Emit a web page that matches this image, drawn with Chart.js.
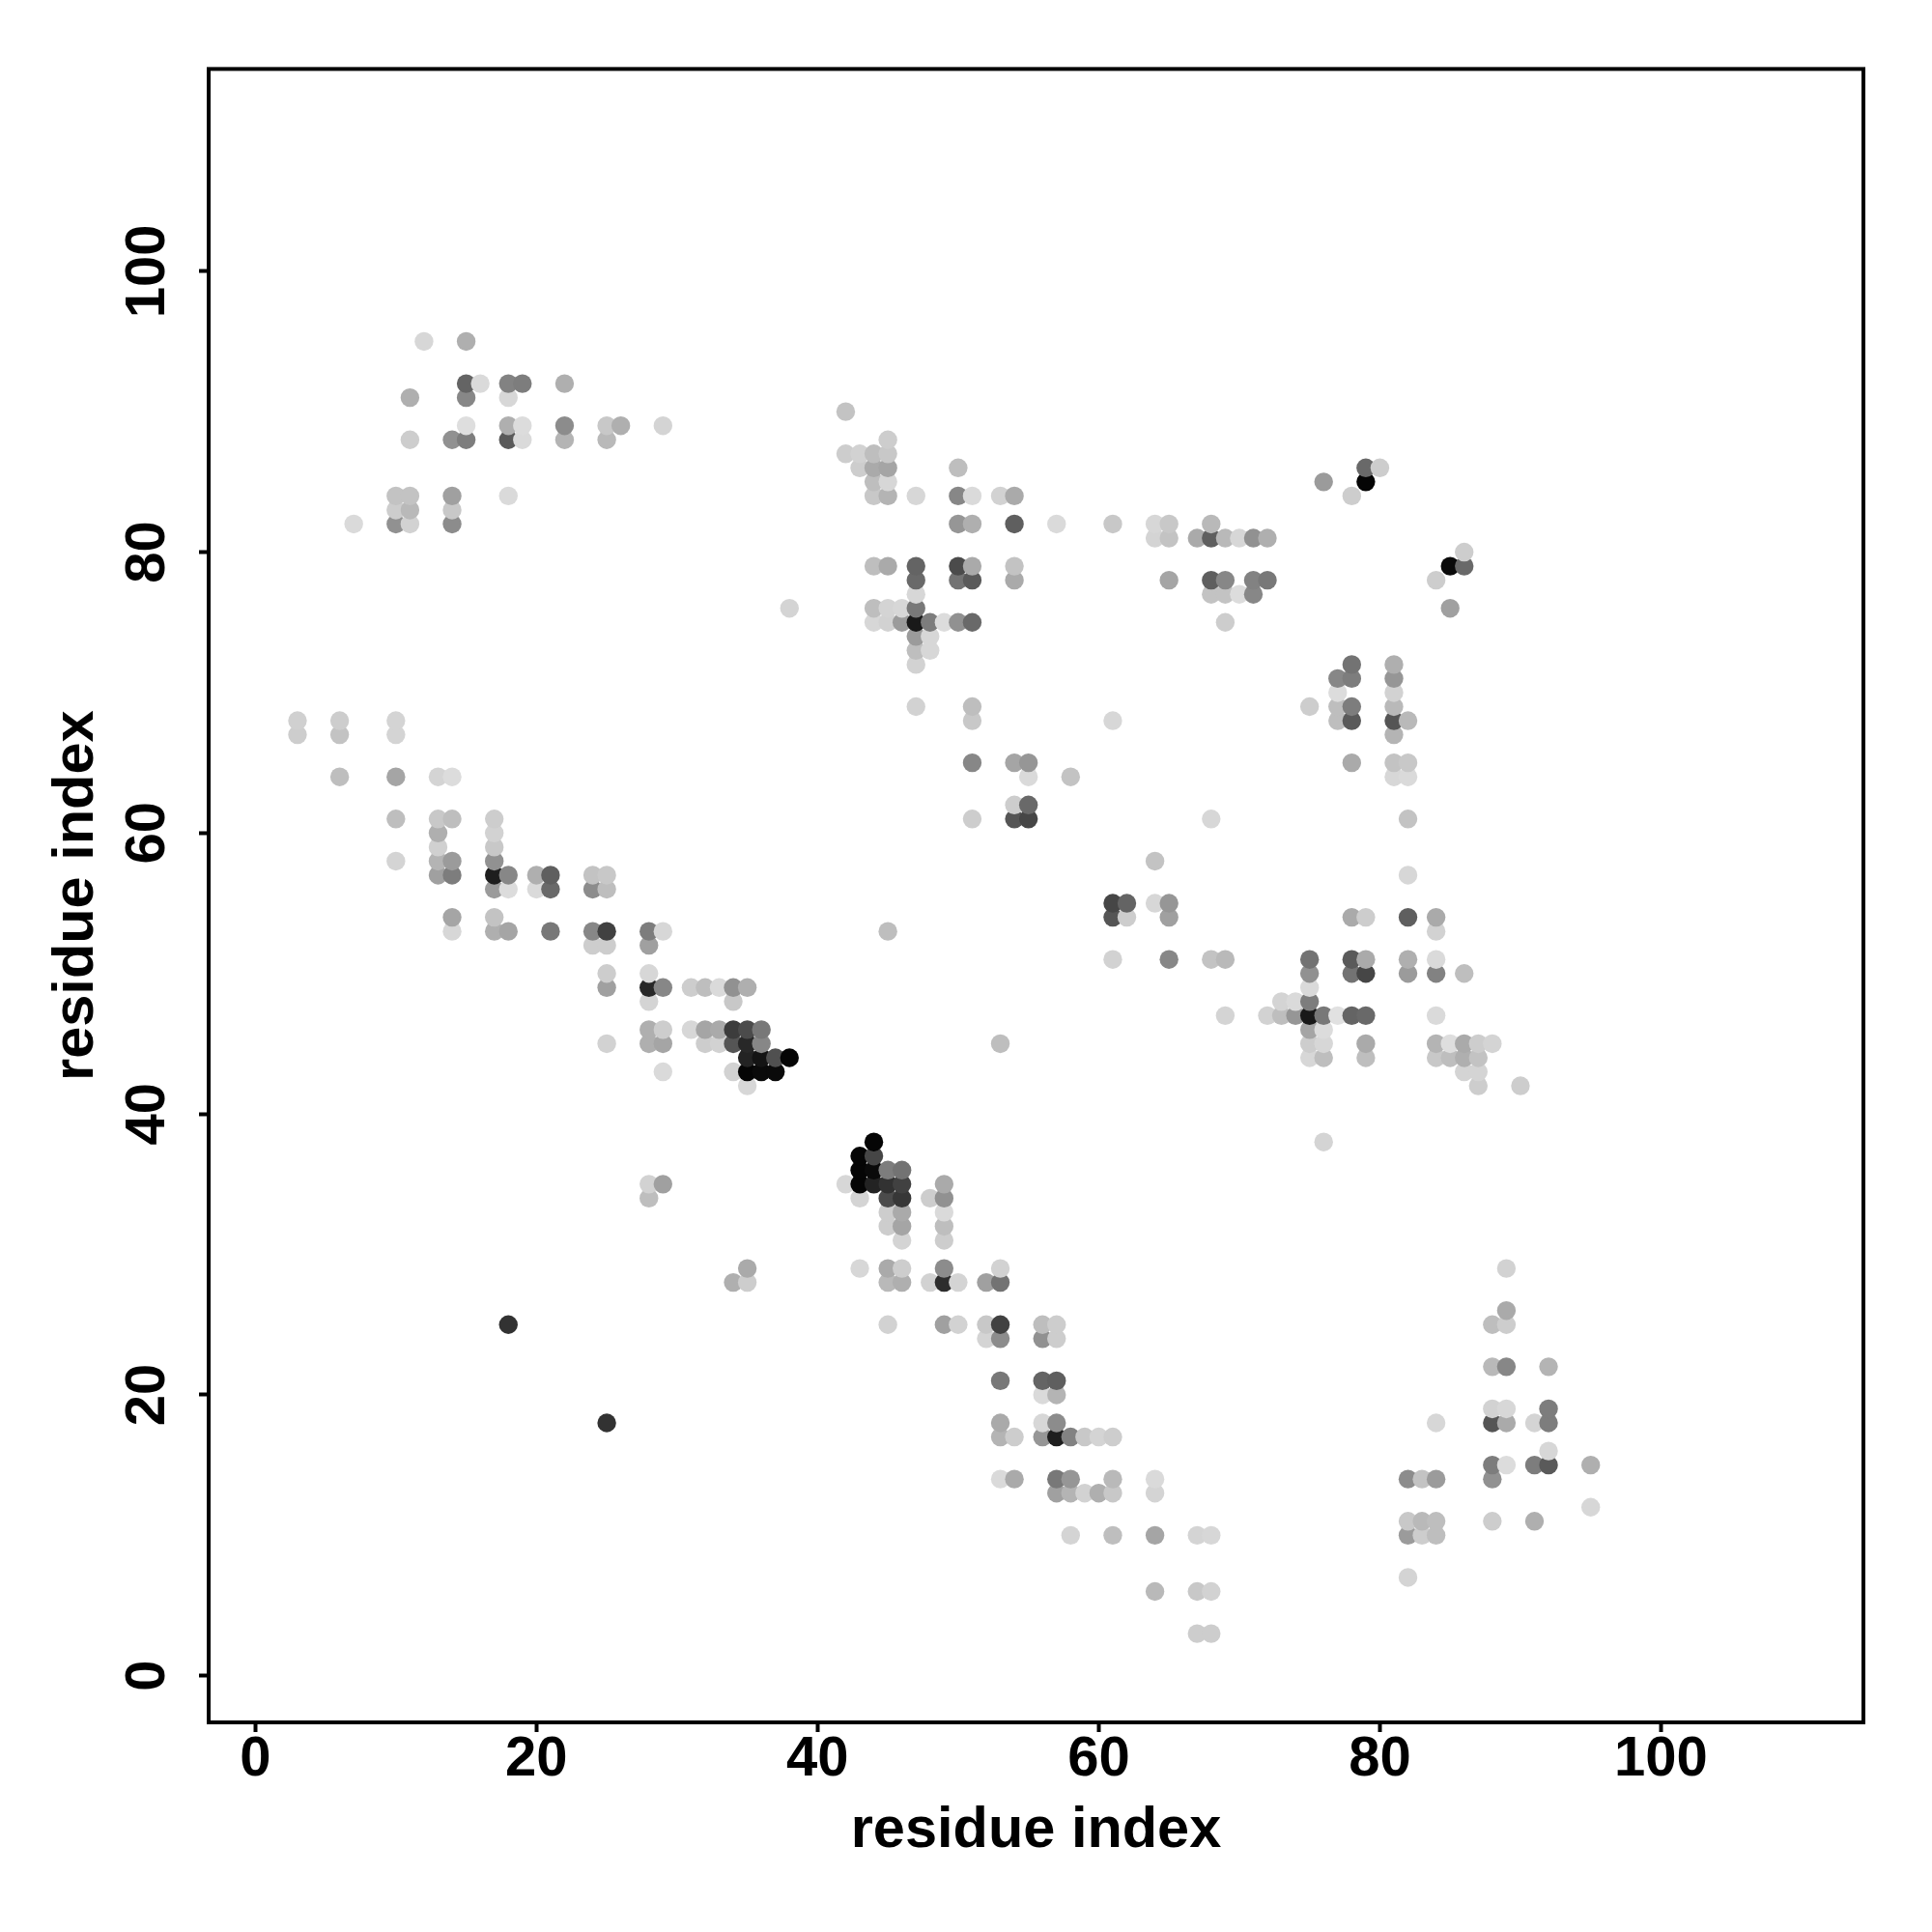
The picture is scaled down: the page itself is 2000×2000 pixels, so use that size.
<!DOCTYPE html>
<html>
<head>
<meta charset="utf-8">
<style>html,body{margin:0;padding:0;background:#fff}canvas{display:block}</style>
<script src="https://cdn.jsdelivr.net/npm/chart.js@4"></script>
</head>
<body>
<canvas id="c" width="2000" height="2000"></canvas>
<script>
const axisTitle = "residue index";
const tickValues = [0, 20, 40, 60, 80, 100];
const axisMin = -3.32;
const axisMax = 114.4;

// x residue of each column of contacts
const residueI = [3,6,7,10,11,12,13,14,15,16,17,18,19,20,21,22,24,25,26,28,29,31,32,33,34,35,36,37,38,42,43,44,45,46,47,48,49,50,51,52,53,54,55,56,57,58,59,60,61,62,64,65,67,68,69,70,71,72,73,74,75,76,77,78,79,80,81,82,83,84,85,86,87,88,89,90,91,92,95];

// y residues in each column, in the same order as residueI
const residueJ = [
[67,68],[64,67,68],[82],[58,61,64,67,68,82,83,84],[82,83,84,88,91],[95],[57,58,59,60,61,64],
[53,54,57,58,61,64,82,83,84,88],[88,89,91,92,95],[92],[53,54,56,57,58,59,60,61],
[25,53,56,57,84,88,89,91,92],[88,89,92],[56,57],[53,56,57],[88,89,92],[52,53,56,57],
[18,45,49,50,52,53,56,57,88,89],[89],[34,35,45,46,48,49,50,52,53],[35,43,45,46,49,53,89],[46,49],
[45,46,49],[45,46,49],[28,43,45,46,48,49],[28,29,42,43,44,45,46,49],[43,44,45,46],[43,44],[44,76],
[35,87,90],[29,34,35,36,37,86,87],[35,36,37,38,75,76,79,84,85,86,87],
[25,28,29,32,33,34,35,36,53,75,76,79,84,85,86,87,88],[28,29,31,32,33,34,35,36,75,76],
[69,72,73,74,75,76,77,78,79,84],[28,34,73,74,75],[25,28,29,31,32,33,34,35,75],
[25,28,75,78,79,82,84,86],[61,65,68,69,75,78,79,82,84],[24,25,28],[14,17,18,21,24,25,28,29,45,84],
[14,17,61,62,65,78,79,82,84],[61,62,64,65],[17,18,20,21,24,25],[13,14,17,18,20,21,24,25,82],
[10,13,14,17,64],[13,17],[13,17],[10,13,14,17,51,54,55,68,82],[54,55],[6,10,13,14,55,58,81,82],
[51,54,55,78,81,82],[3,6,10,81],[3,6,10,51,61,77,78,81,82],[47,51,75,77,78,81],[77,81],[77,78,81],
[47,78,81],[47,48],[47,48],[44,45,46,47,48,49,50,51,69],[38,44,45,46,47,85],[47,68,69,70,71],
[47,50,51,54,65,68,69,71,72,84],[44,45,47,50,51,54,85,86],[86],[64,65,67,68,69,70,71,72],
[7,10,11,14,50,51,54,57,61,64,65,68],[10,11,14],[10,11,14,18,44,45,47,50,51,53,54,78],[44,45,76,79],
[43,44,45,50,79,80],[42,43,44,45],[11,14,15,18,19,22,25,45],[15,18,19,22,25,26,29],[42],[11,15,18],
[15,16,18,19,22],[12,15]
];

// grey level (0 black, 255 white) of each contact, same shape as residueJ
const shade = [
[205,208],[190,195,205],[218],[212,190,165,212,212,145,205,195],[210,185,195,205,175],[215],[160,180,208,175,200,212],
[215,165,125,155,190,220,140,200,160,145],[125,222,135,100,175],[218],[175,195,155,30,145,200,210,205],
[50,165,220,135,218,90,175,215,130],[218,220,125],[218,175],[120,105,95],[180,140,175],[205,135,140,195],
[50,210,160,205,205,65,190,200,185,200],[175],[190,210,175,175,212,40,215,160,125],[160,218,165,205,135,215,212],[215,205],
[205,165,190],[210,170,218],[175,210,85,60,200,145],[205,170,215,5,35,40,75,175],[10,20,135,120],[10,80],[5,212],
[215,205,195],[215,212,5,5,5,205,210],[35,10,70,5,215,190,190,200,190,170,190],
[210,185,170,205,205,75,50,125,190,210,212,170,180,215,165,200,205],[175,205,212,165,170,55,65,115,155,215],
[210,210,190,155,25,120,215,105,100,215],[210,205,215,215,125],[160,45,140,205,190,218,145,170,220],
[210,212,145,115,75,150,135,190],[205,135,200,190,105,90,170,175,218],[212,200,160],[218,180,170,120,140,65,115,210,190,210],
[170,205,85,205,165,170,195,95,170],[70,105,218,150],[150,215,218,100,145,190],[160,120,30,140,180,95,205,205,218],
[212,180,150,130,195],[210,200],[175,212],[190,200,185,205,210,85,70,215,200],[205,100],[185,165,212,218,215,195,212,215],
[135,160,150,165,195,200],[205,200,212,170],[205,210,215,195,215,195,95,95,185],[212,185,205,195,135,185],[220,215],[135,130,145],
[210,120,175],[190,212],[150,218],[215,205,165,25,125,218,145,115,205],[212,190,215,220,120,155],[225,190,190,220,135],
[100,115,90,170,170,90,125,125,115,205],[190,170,105,70,170,205,5,105],[205],[215,195,180,85,185,210,150,175],
[212,155,200,140,155,175,95,215,195,218,200,185],[205,185,195],[190,190,155,215,200,180,218,130,218,210,170,205],[190,222,160,10],
[212,175,170,190,105,205],[205,212,195,205],[205,145,125,85,210,185,190,212],[220,170,215,135,205,170,210],[205],[175,125,212],
[90,215,125,125,180],[215,175]
];

const points = [];
const colours = [];
residueI.forEach((x, i) => {
  residueJ[i].forEach((y, k) => {
    const s = shade[i][k];
    points.push({x, y});
    colours.push(`rgb(${s},${s},${s})`);
  });
});

const family = "'Liberation Sans', Arial, sans-serif";
const tickFont = {family, weight: 'bold', size: 58};
const titleFont = {family, weight: 'bold', size: 59.5};
const frame = {
  id: 'frame',
  afterDatasetsDraw(chart) {
    const a = chart.chartArea, g = chart.ctx;
    g.save();
    g.strokeStyle = '#000';
    g.lineWidth = 4;
    g.strokeRect(a.left, a.top, a.right - a.left, a.bottom - a.top);
    g.restore();
  }
};
const setTicks = s => { s.ticks = tickValues.map(value => ({value})); };
const gridOpts = {drawOnChartArea: false, drawTicks: true, tickLength: 10, tickWidth: 4, tickColor: '#000'};

new Chart(document.getElementById('c'), {
  type: 'scatter',
  data: {datasets: [{
    data: points,
    pointBackgroundColor: colours,
    pointBorderWidth: 0,
    pointRadius: 9.7,
    showLine: false
  }]},
  options: {
    responsive: false,
    animation: false,
    layout: {padding: {top: 71.4, right: 71, left: 0, bottom: 0}},
    plugins: {legend: {display: false}, tooltip: {enabled: false}},
    scales: {
      x: {
        type: 'linear', min: axisMin, max: axisMax,
        afterBuildTicks: setTicks,
        afterFit: s => { s.height = 217; },
        grid: gridOpts,
        border: {display: false},
        ticks: {color: '#000', font: tickFont, padding: -6, maxRotation: 0, autoSkip: false, includeBounds: false},
        title: {display: true, text: axisTitle, color: '#000', font: titleFont, padding: {top: 0, bottom: 69}}
      },
      y: {
        type: 'linear', min: axisMin, max: axisMax,
        afterBuildTicks: setTicks,
        afterFit: s => { s.width = 216; },
        grid: gridOpts,
        border: {display: false},
        ticks: {color: '#000', font: tickFont, padding: 4, minRotation: 90, maxRotation: 90, crossAlign: 'center', autoSkip: false, includeBounds: false},
        title: {display: true, text: axisTitle, color: '#000', font: titleFont, padding: {top: 44, bottom: 0}}
      }
    }
  },
  plugins: [frame]
});
</script>
</body>
</html>
